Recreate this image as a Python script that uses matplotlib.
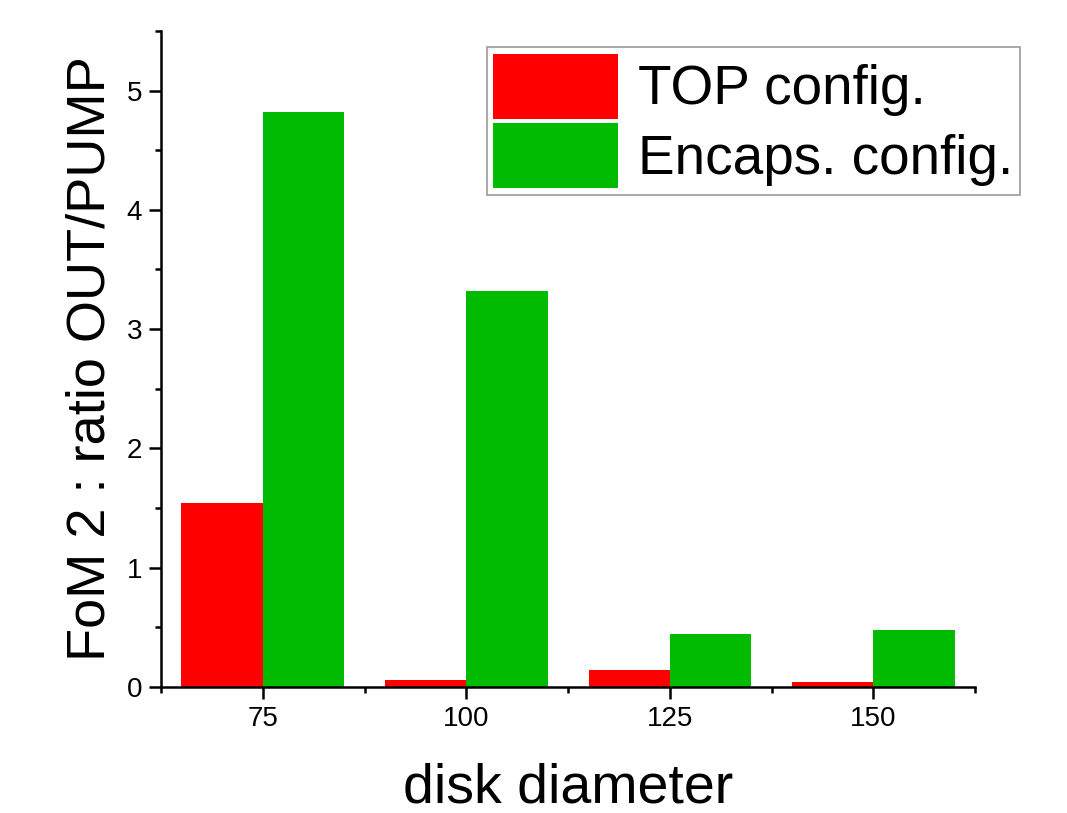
import matplotlib
matplotlib.use('Agg')
import matplotlib.pyplot as plt
import numpy as np
from matplotlib.ticker import MultipleLocator, FixedLocator

plt.rcParams['font.family'] = ['Liberation Sans', 'DejaVu Sans']

# data
diameters = ['75', '100', '125', '150']
top_config = [1.54, 0.06, 0.14, 0.04]
encaps_config = [4.82, 3.32, 0.44, 0.48]

red = '#ff0000'
green = '#00bb00'

fig = plt.figure(figsize=(10.67, 8.13), dpi=100)
ax = fig.add_axes([0.151, 0.155, 0.763, 0.807])

x = np.arange(len(diameters))
w = 0.4
ax.bar(x - w / 2, top_config, w, color=red, label='TOP config.')
ax.bar(x + w / 2, encaps_config, w, color=green, label='Encaps. config.')

ax.set_xlim(-0.5, 3.5)
ax.set_ylim(0, 5.5)
ax.set_xticks(x)
ax.set_xticklabels(diameters)
ax.xaxis.set_minor_locator(FixedLocator(np.arange(-0.5, 4.0, 1.0)))
ax.yaxis.set_major_locator(MultipleLocator(1))
ax.yaxis.set_minor_locator(MultipleLocator(0.5))

for s in ['top', 'right']:
    ax.spines[s].set_visible(False)
for s in ['left', 'bottom']:
    ax.spines[s].set_linewidth(1.8)

ax.tick_params(which='major', direction='out', length=8.5, width=1.8, labelsize=20, pad=5)
ax.tick_params(which='minor', direction='out', length=4, width=1.8)

ax.set_xlabel('disk diameter', fontsize=40, labelpad=22)
ax.set_ylabel('FoM 2 : ratio OUT/PUMP', fontsize=39, labelpad=8)

leg = fig.legend(loc='upper left', bbox_to_anchor=(0.456, 0.942), fontsize=39.5,
                 handlelength=2.28, handleheight=1.45, handletextpad=0.36,
                 labelspacing=0.08, borderpad=0.12, borderaxespad=0,
                 fancybox=False, frameon=True)
leg.get_frame().set_edgecolor('#808080')
leg.get_frame().set_linewidth(1.2)

fig.savefig('out.png', dpi=100)
plt.close(fig)
